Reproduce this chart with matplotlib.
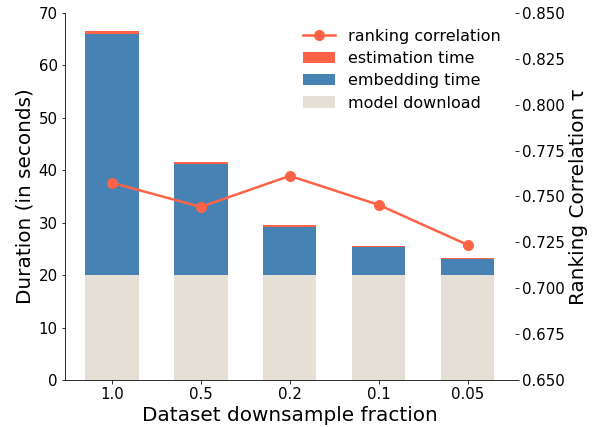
import matplotlib
matplotlib.use("Agg")
import matplotlib.pyplot as plt
import numpy as np

# Values.
fractions = ["1.0", "0.5", "0.2", "0.1", "0.05"]
model_download = [20.0, 20.0, 20.0, 20.0, 20.0]
embedding_time = [46.0, 21.2, 9.2, 5.3, 3.1]
estimation_time = [0.6, 0.4, 0.4, 0.2, 0.25]
ranking_corr = [0.7574, 0.7443, 0.7612, 0.7454, 0.7236]

DPI = 72
fig, ax = plt.subplots(figsize=(600 / DPI, 427 / DPI), dpi=DPI)
fig.subplots_adjust(left=0.108, right=0.858, bottom=0.110, top=0.970)

x = np.arange(len(fractions))
base = np.array(model_download)
emb = np.array(embedding_time)
b1 = ax.bar(x, base, width=0.6, color="#e6dfd6", label="model download")
b2 = ax.bar(x, emb, width=0.6, bottom=base, color="steelblue", label="embedding time")
b3 = ax.bar(x, estimation_time, width=0.6, bottom=base + emb, color="tomato",
            label="estimation time")

ax.set_ylim(0, 70)
ax.set_xticks(x)
ax.set_xticklabels(fractions)
ax.set_xlabel("Dataset downsample fraction", fontsize=20)
ax.set_ylabel("Duration (in seconds)", fontsize=20)
ax.tick_params(labelsize=15)
ax.spines["top"].set_visible(False)
ax.spines["right"].set_visible(False)

ax2 = ax.twinx()
(ln,) = ax2.plot(x, ranking_corr, color="tomato", marker="o", linewidth=2.5,
                 markersize=10, label="ranking correlation")
ax2.set_ylim(0.65, 0.85)
ax2.set_yticks(np.arange(0.65, 0.851, 0.025))
ax2.set_ylabel("Ranking Correlation τ", fontsize=20)
ax2.tick_params(labelsize=15)
for s in ["top", "right", "left", "bottom"]:
    ax2.spines[s].set_visible(False)

ax2.legend([ln, b3, b2, b1],
           ["ranking correlation", "estimation time", "embedding time", "model download"],
           loc="upper right", bbox_to_anchor=(1.0, 0.995), frameon=False, fontsize=16,
           labelspacing=0.45)

fig.savefig("out.png", dpi=DPI)
